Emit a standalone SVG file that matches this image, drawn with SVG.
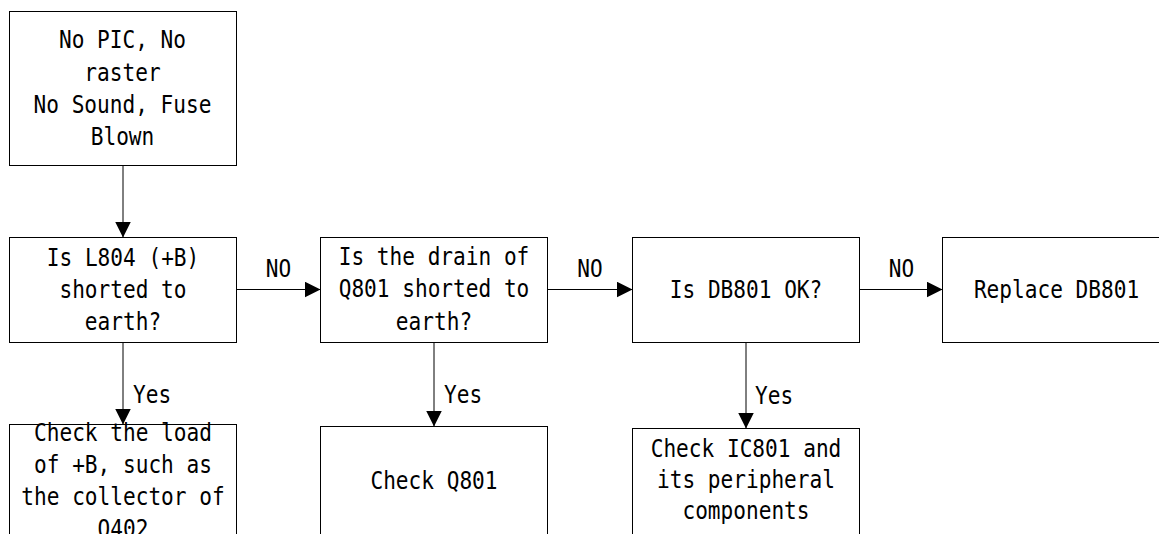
<svg xmlns="http://www.w3.org/2000/svg" width="1159" height="534" viewBox="0 0 1159 534">
  <style>
    .box { fill: #ffffff; stroke: #000000; stroke-width: 1; }
    .t { font-family: "DejaVu Sans Mono", "Liberation Mono", monospace; font-size: 24px; fill: #000000; }
    .c { text-anchor: middle; }
    .conn { stroke: #000000; stroke-width: 1; fill: none; marker-end: url(#arrow); }
  </style>
  <defs>
    <marker id="arrow" viewBox="0 0 16 16" refX="16" refY="8" markerWidth="16" markerHeight="16" markerUnits="userSpaceOnUse" orient="auto">
      <path d="M0,0 L16,8 L0,16 Z" fill="#000000"/>
    </marker>
  </defs>
  <rect width="1159" height="534" fill="#ffffff"/>

  <g id="connectors">
    <line class="conn" x1="123" y1="165.5" x2="123" y2="237.5"/>
    <line class="conn" x1="236.5" y1="289.5" x2="320.5" y2="289.5"/>
    <line class="conn" x1="547.5" y1="289.5" x2="632.5" y2="289.5"/>
    <line class="conn" x1="859.5" y1="289.5" x2="942.5" y2="289.5"/>
    <line class="conn" x1="123" y1="342.5" x2="123" y2="424.5"/>
    <line class="conn" x1="434" y1="342.5" x2="434" y2="426.5"/>
    <line class="conn" x1="746" y1="342.5" x2="746" y2="428.5"/>
    <g class="t">
      <text class="c" transform="translate(278.5 0) scale(0.88 1)" x="0" y="277">NO</text>
      <text class="c" transform="translate(590 0) scale(0.88 1)" x="0" y="277">NO</text>
      <text class="c" transform="translate(901.5 0) scale(0.88 1)" x="0" y="277">NO</text>
      <text transform="translate(133 0) scale(0.88 1)" x="0" y="403">Yes</text>
      <text transform="translate(444 0) scale(0.88 1)" x="0" y="403">Yes</text>
      <text transform="translate(755 0) scale(0.88 1)" x="0" y="404">Yes</text>
    </g>
  </g>

  <g id="node-start">
    <rect class="box" x="9.5" y="11.5" width="227" height="154"/>
    <text class="t c" transform="translate(122.5 0) scale(0.88 1)"><tspan x="0" y="48">No PIC, No</tspan><tspan x="0" y="81">raster</tspan><tspan x="0" y="113">No Sound, Fuse</tspan><tspan x="0" y="145">Blown</tspan></text>
  </g>

  <g id="node-l804">
    <rect class="box" x="9.5" y="237.5" width="227" height="105"/>
    <text class="t c" transform="translate(123 0) scale(0.88 1)"><tspan x="0" y="266">Is L804 (+B)</tspan><tspan x="0" y="298">shorted to</tspan><tspan x="0" y="330">earth?</tspan></text>
  </g>

  <g id="node-q801-drain">
    <rect class="box" x="320.5" y="237.5" width="227" height="105"/>
    <text class="t c" transform="translate(434 0) scale(0.88 1)"><tspan x="0" y="265">Is the drain of</tspan><tspan x="0" y="297">Q801 shorted to</tspan><tspan x="0" y="330">earth?</tspan></text>
  </g>

  <g id="node-db801">
    <rect class="box" x="632.5" y="237.5" width="227" height="105"/>
    <text class="t c" transform="translate(746 0) scale(0.88 1)" x="0" y="298.5">Is DB801 OK?</text>
  </g>

  <g id="node-replace">
    <rect class="box" x="942.5" y="237.5" width="227" height="105"/>
    <text class="t c" transform="translate(1056.5 0) scale(0.88 1)" x="0" y="298">Replace DB801</text>
  </g>

  <g id="node-check-load">
    <rect class="box" x="9.5" y="424.5" width="227" height="120"/>
    <text class="t c" transform="translate(123 0) scale(0.88 1)"><tspan x="0" y="441">Check the load</tspan><tspan x="0" y="473">of +B, such as</tspan><tspan x="0" y="505">the collector of</tspan><tspan x="0" y="537">Q402</tspan></text>
  </g>

  <g id="node-check-q801">
    <rect class="box" x="320.5" y="426.5" width="227" height="120"/>
    <text class="t c" transform="translate(434 0) scale(0.88 1)" x="0" y="489">Check Q801</text>
  </g>

  <g id="node-check-ic801">
    <rect class="box" x="632.5" y="428.5" width="227" height="120"/>
    <text class="t c" transform="translate(746 0) scale(0.88 1)"><tspan x="0" y="457">Check IC801 and</tspan><tspan x="0" y="488">its peripheral</tspan><tspan x="0" y="519">components</tspan></text>
  </g>
</svg>
